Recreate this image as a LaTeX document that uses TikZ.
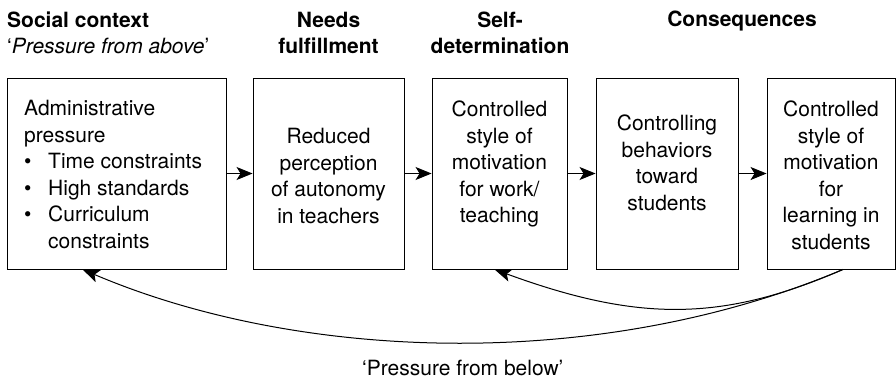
\documentclass[tikz,border=0pt]{standalone}
\usepackage{fontspec}
\setmainfont{TeX Gyre Heros}
\usetikzlibrary{arrows.meta,calc}
\tikzset{
  box/.style={draw, line width=0.9pt, inner sep=0pt, minimum height=191pt},
  txt/.style={inner sep=0pt, align=center, font=\fontsize{21}{26.5}\selectfont},
  hdr/.style={inner sep=0pt, align=center, font=\fontsize{21}{26}\selectfont\bfseries},
  arr/.style={line width=0.9pt, -{Stealth[length=16pt,width=13pt,inset=4pt]}},
  carr/.style={line width=1pt, -{Stealth[length=17pt,width=13pt,inset=4pt]}}
}
\begin{document}
\begin{tikzpicture}[x=1pt,y=-1pt]
\useasboundingbox (0,0) rectangle (896,378);
% boxes
\node[box, minimum width=219pt] (b1) at (116.5,173.5) {};
\node[box, minimum width=151pt] (b2) at (328.5,173.5) {};
\node[box, minimum width=135pt] (b3) at (499.5,173.5) {};
\node[box, minimum width=142pt] (b4) at (667,173.5) {};
\node[box, minimum width=128pt] (b5) at (831,173.5) {};
% box texts
\node[txt, align=left, anchor=north west] (t1) at (24,100) {Administrative\\pressure\\\makebox[24pt][l]{\textbullet}Time constraints\\\makebox[24pt][l]{\textbullet}High standards\\\makebox[24pt][l]{\textbullet}Curriculum\\\hspace*{24pt}constraints};
\node[txt, anchor=north] (t2) at (328.5,128) {Reduced\\perception\\of autonomy\\in teachers};
\node[txt, anchor=north] (t3) at (499.5,101) {Controlled\\style of\\motivation\\for work/\\teaching};
\node[txt, anchor=north] (t4) at (667,115) {Controlling\\behaviors\\toward\\students};
\node[txt, anchor=north] (t5) at (831,101) {Controlled\\style of\\motivation\\for\\learning in\\students};
% headers
\node[hdr, anchor=base west] (h1) at (7,27) {Social context};
\node[inner sep=0pt, anchor=base west, font=\fontsize{21}{26}\selectfont] (h1b) at (7,53) {‘\textit{Pressure from above}’};
\node[hdr, anchor=north] (h2) at (328.5,11.5) {Needs\\fulfillment};
\node[hdr, anchor=north] (h3) at (500,11.5) {Self-\\determination};
\node[hdr, anchor=base] (h4) at (742,26) {Consequences};
\node[inner sep=0pt, anchor=base west, font=\fontsize{21}{26}\selectfont] (lb) at (362,375) {‘Pressure from below’};
% straight arrows
\draw[arr] (b1) -- (b2);
\draw[arr] (b2) -- (b3);
\draw[arr] (b3) -- (b4);
\draw[arr] (b4) -- (b5);
% feedback arrows
\coordinate (s) at ($(b5.south)+(12,0)$);
\coordinate (e1) at ($(b1.south west)+(76,0)$);
\coordinate (e3) at ($(b3.south west)+(63,0)$);
\draw[carr] (s) .. controls (600,372) and (300,362) .. (e1);
\draw[carr] (s) .. controls (722,322) and (638,322) .. (e3);
\end{tikzpicture}
\end{document}
